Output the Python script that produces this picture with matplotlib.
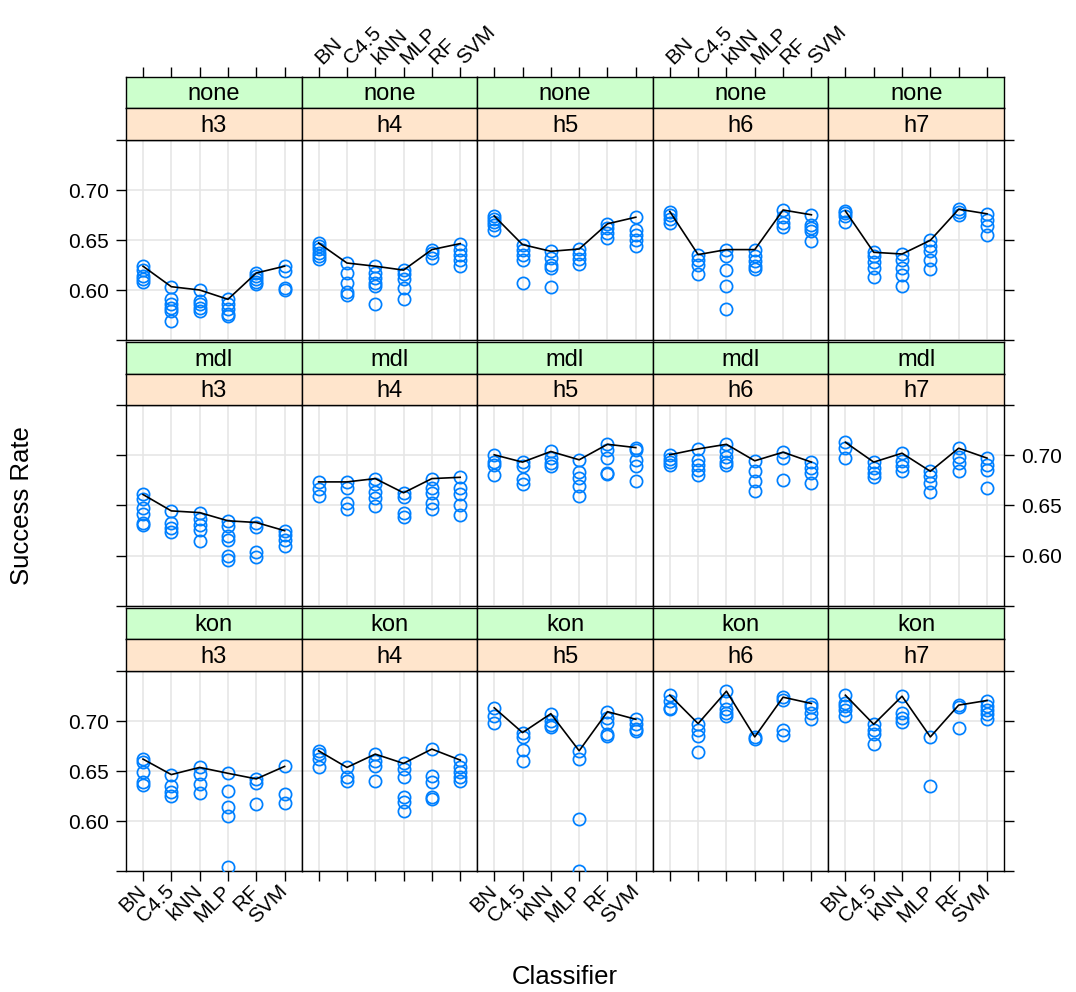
import matplotlib
matplotlib.use("Agg")
import matplotlib.pyplot as plt
import numpy as np

plt.rcParams['font.family'] = ['Liberation Sans', 'DejaVu Sans']

classifiers = ["BN", "C4.5", "kNN", "MLP", "RF", "SVM"]
discretizers = ["none", "mdl", "kon"]
horizons = ["h3", "h4", "h5", "h6", "h7"]

# ---- none ----
none_h3 = [[0.6238, 0.6205, 0.614, 0.611, 0.608],
           [0.6033, 0.5914, 0.5858, 0.5825, 0.5791, 0.5692],
           [0.6000, 0.589, 0.5858, 0.5825, 0.5791],
           [0.5907, 0.5858, 0.5808, 0.5758, 0.5742],
           [0.6170, 0.614, 0.611, 0.608, 0.606],
           [0.6238, 0.619, 0.6023, 0.6000]]
none_h4 = [[0.647, 0.644, 0.641, 0.637, 0.634, 0.631],
           [0.627, 0.617, 0.6066, 0.598, 0.5947],
           [0.6238, 0.617, 0.612, 0.6073, 0.604, 0.5858],
           [0.6199, 0.6156, 0.6113, 0.6023, 0.5914],
           [0.6404, 0.637, 0.632],
           [0.6464, 0.6404, 0.6354, 0.6305, 0.6238]]
none_h5 = [[0.674, 0.671, 0.668, 0.665, 0.660],
           [0.6454, 0.6404, 0.6354, 0.630, 0.6066],
           [0.6387, 0.632, 0.6255, 0.622, 0.6033],
           [0.641, 0.6364, 0.6311, 0.6265],
           [0.6662, 0.6619, 0.657, 0.652],
           [0.6728, 0.6603, 0.6553, 0.650, 0.6437]]
none_h6 = [[0.6785, 0.675, 0.671, 0.667],
           [0.6354, 0.630, 0.6255, 0.6156],
           [0.6404, 0.6338, 0.6205, 0.604, 0.5815],
           [0.6404, 0.6338, 0.6288, 0.6238, 0.6212],
           [0.680, 0.6735, 0.6669, 0.663],
           [0.6752, 0.6652, 0.662, 0.6586, 0.6487]]
none_h7 = [[0.679, 0.677, 0.674, 0.6685],
           [0.6377, 0.6338, 0.6278, 0.6222, 0.6132],
           [0.636, 0.6298, 0.6222, 0.6146, 0.604],
           [0.6497, 0.6437, 0.6387, 0.6298, 0.6212],
           [0.6808, 0.678, 0.675],
           [0.6762, 0.670, 0.6642, 0.6553]]

# ---- mdl ----
mdl_h3 = [[0.661, 0.6561, 0.6479, 0.6419, 0.633, 0.6307],
          [0.6446, 0.633, 0.628, 0.6231],
          [0.6429, 0.6363, 0.6307, 0.6254, 0.6142],
          [0.6347, 0.6297, 0.6198, 0.6155, 0.600, 0.5957],
          [0.633, 0.6287, 0.6033, 0.599],
          [0.6248, 0.6208, 0.6155, 0.6099]]
mdl_h4 = [[0.6736, 0.666, 0.6594],
          [0.6736, 0.6677, 0.6528, 0.6462],
          [0.6769, 0.671, 0.6637, 0.6571, 0.6495],
          [0.6627, 0.6584, 0.6429, 0.6386],
          [0.6769, 0.6677, 0.6627, 0.6528, 0.6462],
          [0.6782, 0.6677, 0.6617, 0.6505, 0.6406]]
mdl_h5 = [[0.7007, 0.6934, 0.6908, 0.6809],
          [0.6934, 0.6891, 0.6769, 0.671],
          [0.704, 0.6974, 0.6924, 0.6891],
          [0.6957, 0.6835, 0.6776, 0.6693, 0.6594],
          [0.7112, 0.7056, 0.6974, 0.6825, 0.6815],
          [0.7079, 0.7056, 0.6957, 0.6891, 0.6743]]
mdl_h6 = [[0.7007, 0.697, 0.694, 0.691],
          [0.7066, 0.6957, 0.6908, 0.6858, 0.6809],
          [0.7112, 0.704, 0.699, 0.694, 0.6908],
          [0.6947, 0.6842, 0.6743, 0.6644],
          [0.7033, 0.6974, 0.6759],
          [0.6934, 0.6875, 0.6825, 0.6726]]
mdl_h7 = [[0.7132, 0.7073, 0.6974],
          [0.6934, 0.6875, 0.6825, 0.6782],
          [0.7023, 0.6941, 0.6891, 0.6842],
          [0.6842, 0.6792, 0.6726, 0.6637],
          [0.7073, 0.699, 0.6924, 0.6842],
          [0.6974, 0.6908, 0.6851, 0.667]]

# ---- kon ----
kon_h3 = [[0.6619, 0.6586, 0.6487, 0.6387, 0.6364],
          [0.6464, 0.6354, 0.6288, 0.6255],
          [0.6536, 0.647, 0.6371, 0.6278],
          [0.6477, 0.6298, 0.6139, 0.6046, 0.5543],
          [0.6421, 0.6377, 0.6166],
          [0.6546, 0.6272, 0.6179]]
kon_h4 = [[0.6702, 0.6669, 0.6619, 0.6536],
          [0.6536, 0.6437, 0.6397],
          [0.6669, 0.6603, 0.6553, 0.6397],
          [0.6576, 0.652, 0.6437, 0.6238, 0.6189, 0.610],
          [0.6719, 0.6454, 0.6387, 0.6238, 0.6222],
          [0.6609, 0.6536, 0.6487, 0.6437, 0.6404]]
kon_h5 = [[0.7132, 0.705, 0.6983],
          [0.6884, 0.6841, 0.6709, 0.6603],
          [0.7073, 0.700, 0.696, 0.694],
          [0.6702, 0.6619, 0.6023, 0.5505],
          [0.7093, 0.7033, 0.6983, 0.6874, 0.6851],
          [0.7017, 0.6967, 0.6917, 0.690]]
kon_h6 = [[0.7258, 0.7205, 0.7132, 0.7116],
          [0.6974, 0.6907, 0.6851, 0.6695],
          [0.7298, 0.7199, 0.7116, 0.7083, 0.705],
          [0.6841, 0.6818],
          [0.7238, 0.7215, 0.6907, 0.6861],
          [0.7175, 0.7139, 0.7083, 0.7017]]
kon_h7 = [[0.7258, 0.7182, 0.7149, 0.7106, 0.705],
          [0.6967, 0.6907, 0.6874, 0.6775],
          [0.7248, 0.7083, 0.7033, 0.6993],
          [0.6841, 0.6354],
          [0.7159, 0.7139, 0.6927],
          [0.7205, 0.7149, 0.7106, 0.7066, 0.7017]]

panels = [[none_h3, none_h4, none_h5, none_h6, none_h7],
          [mdl_h3, mdl_h4, mdl_h5, mdl_h6, mdl_h7],
          [kon_h3, kon_h4, kon_h5, kon_h6, kon_h7]]

yticks = [0.55, 0.60, 0.65, 0.70, 0.75]
yticklabels = ["", "0.60", "0.65", "0.70", ""]

W, H = 1076, 992
fig = plt.figure(figsize=(W / 100, H / 100), dpi=100)

def px(x0, y0, w, h):
    return [x0 / W, 1 - (y0 + h) / H, w / W, h / H]

left = 126.0
pw = (1004.0 - 126.0) / 5
panel_tops = [140.0, 405.5, 671.0]
ph = 200.0
sh = 31.7
xlim = (0.4, 6.6)
ylim = (0.5505, 0.7500)
xs = np.arange(1, 7)
blue = "#0080ff"
green = "#ccffcc"
orange = "#ffe5cc"
tick_fs = 15
tick_len = 7.5
strip_fs = 17

for r in range(3):
    for c in range(5):
        x0 = left + c * pw
        t = panel_tops[r]
        ax = fig.add_axes(px(x0, t, pw, ph))
        data = panels[r][c]
        for i, vals in enumerate(data):
            ax.plot([xs[i]] * len(vals), vals, linestyle="none", marker="o",
                    mfc="none", mec=blue, ms=8.8, mew=1.25, zorder=3)
        maxes = [max(v) for v in data]
        ax.plot(xs, maxes, color="black", lw=1.2, zorder=4)
        ax.set_xlim(*xlim)
        ax.set_ylim(*ylim)
        ax.set_xticks(xs)
        ax.set_yticks(yticks)
        ax.grid(True, color="#e6e6e6", lw=1.2, zorder=0)
        ax.set_axisbelow(True)
        for sp in ax.spines.values():
            sp.set_linewidth(1.0)
        ax.tick_params(axis="x", direction="out", length=tick_len, width=1.0,
                       labelsize=tick_fs, top=False, bottom=(r == 2), pad=5,
                       labelbottom=(r == 2 and c % 2 == 0), labeltop=False)
        if r == 2 and c % 2 == 0:
            ax.set_xticklabels(classifiers)
            plt.setp(ax.get_xticklabels(), rotation=45, ha="right", va="center",
                     rotation_mode="anchor")
        ax.tick_params(axis="y", direction="out", length=tick_len, width=1.0,
                       labelsize=tick_fs, left=(c == 0), right=(c == 4), pad=5,
                       labelleft=(c == 0 and r != 1), labelright=(c == 4 and r == 1))
        ax.set_yticklabels(yticklabels)
        for k, (lab, col) in enumerate([(discretizers[r], green), (horizons[c], orange)]):
            sax = fig.add_axes(px(x0, t - 2 * sh + k * sh, pw, sh))
            sax.set_facecolor(col)
            sax.set_xlim(*xlim)
            sax.set_ylim(0, 1)
            sax.set_yticks([])
            for sp in sax.spines.values():
                sp.set_linewidth(1.0)
            sax.text(0.5, 0.45, lab, transform=sax.transAxes, ha="center",
                     va="center", fontsize=strip_fs)
            if r == 0 and k == 0:
                sax.set_xticks(xs)
                sax.tick_params(axis="x", direction="out", length=tick_len, width=1.0,
                                labelsize=tick_fs, top=True, bottom=False, pad=4,
                                labeltop=(c % 2 == 1), labelbottom=False)
                if c % 2 == 1:
                    sax.set_xticklabels(classifiers)
                    plt.setp(sax.get_xticklabels(), rotation=45, ha="left",
                             va="center", rotation_mode="anchor")
            else:
                sax.set_xticks([])

fig.text(22 / W, 1 - 506 / H, "Success Rate", rotation=90, ha="center",
         va="center", fontsize=18.5)
fig.text(565 / W, 1 - 977 / H, "Classifier", ha="center", va="center",
         fontsize=18.5)

fig.savefig("out.png", dpi=100)
